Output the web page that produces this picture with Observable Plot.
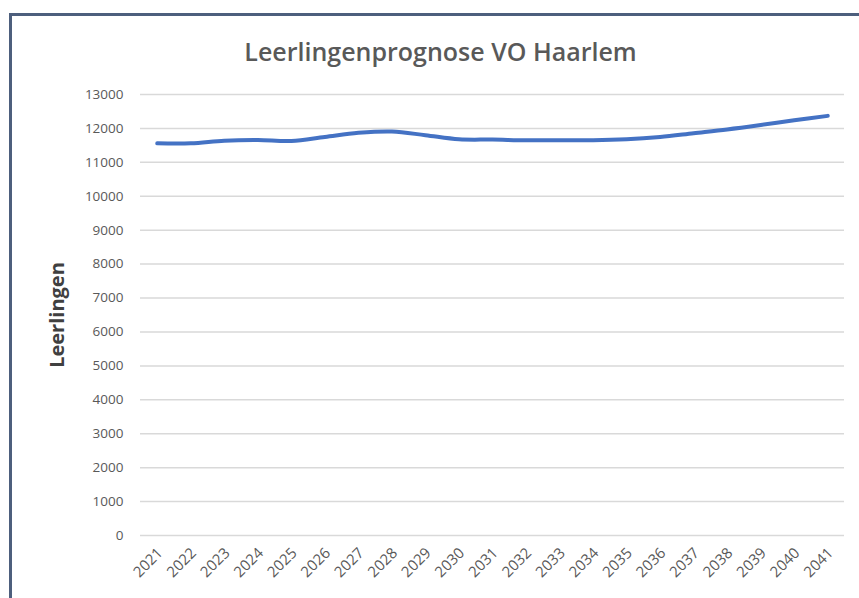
<!DOCTYPE html>
<html>
<head>
<meta charset="utf-8">
<script src="https://cdn.jsdelivr.net/npm/d3@7"></script>
<script src="https://cdn.jsdelivr.net/npm/@observablehq/plot@0.6"></script>
<style>
  html, body { margin: 0; padding: 0; background: #fff; }
  #wrap { position: relative; width: 859px; height: 598px; overflow: hidden; }
  #frame { position: absolute; left: 9px; top: 13px; width: 900px; height: 700px;
           border-left: 3px solid #4d5f7d; border-top: 3px solid #4d5f7d; pointer-events: none; }
  #chart { position: absolute; left: 0; top: 0; }
</style>
</head>
<body>
<div id="wrap"><div id="chart"></div><div id="frame"></div></div>
<script>
const title = "Leerlingenprognose VO Haarlem";
const yLabel = "Leerlingen";
const years = ["2021","2022","2023","2024","2025","2026","2027","2028","2029","2030","2031",
               "2032","2033","2034","2035","2036","2037","2038","2039","2040","2041"];
const leerlingen = [11560, 11560, 11640, 11660, 11630, 11750, 11870, 11910, 11800, 11680, 11670,
                    11650, 11650, 11650, 11680, 11750, 11860, 11970, 12100, 12240, 12370];
const yTicks = [0,1000,2000,3000,4000,5000,6000,7000,8000,9000,10000,11000,12000,13000];

const data = years.map((y, i) => ({year: y, value: leerlingen[i]}));

const chart = Plot.plot({
  width: 859,
  height: 598,
  marginLeft: 140,
  marginRight: 15,
  marginTop: 94,
  marginBottom: 63,
  style: {fontFamily: "'Open Sans', sans-serif", color: "#595959", background: "transparent"},
  x: {type: "point", domain: years, padding: 0.5, round: false},
  y: {domain: [0, 13000]},
  marks: [
    Plot.gridY(yTicks, {stroke: "#d9d9d9", strokeOpacity: 1, strokeWidth: 1.5}),
    Plot.axisY(yTicks, {tickSize: 0, tickPadding: 17, fontSize: 13.5, fill: "#595959", label: null, tickFormat: d => String(d)}),
    Plot.axisX(years, {tickSize: 0, tickPadding: 15, tickRotate: -45, fontSize: 15, dx: 3, fill: "#595959", label: null}),
    Plot.line(data, {x: "year", y: "value", stroke: "#4472c4", strokeWidth: 4, curve: "catmull-rom"}),
    Plot.text([title], {frameAnchor: "top", dx: -52, dy: -51, fontSize: 25, fontWeight: 600, fill: "#595959", textAnchor: "middle"}),
    Plot.text([yLabel], {frameAnchor: "left", dx: -83, rotate: -90, fontSize: 20, fontWeight: 700, fill: "#404040", textAnchor: "middle"})
  ]
});
document.getElementById("chart").appendChild(chart);
</script>
</body>
</html>
